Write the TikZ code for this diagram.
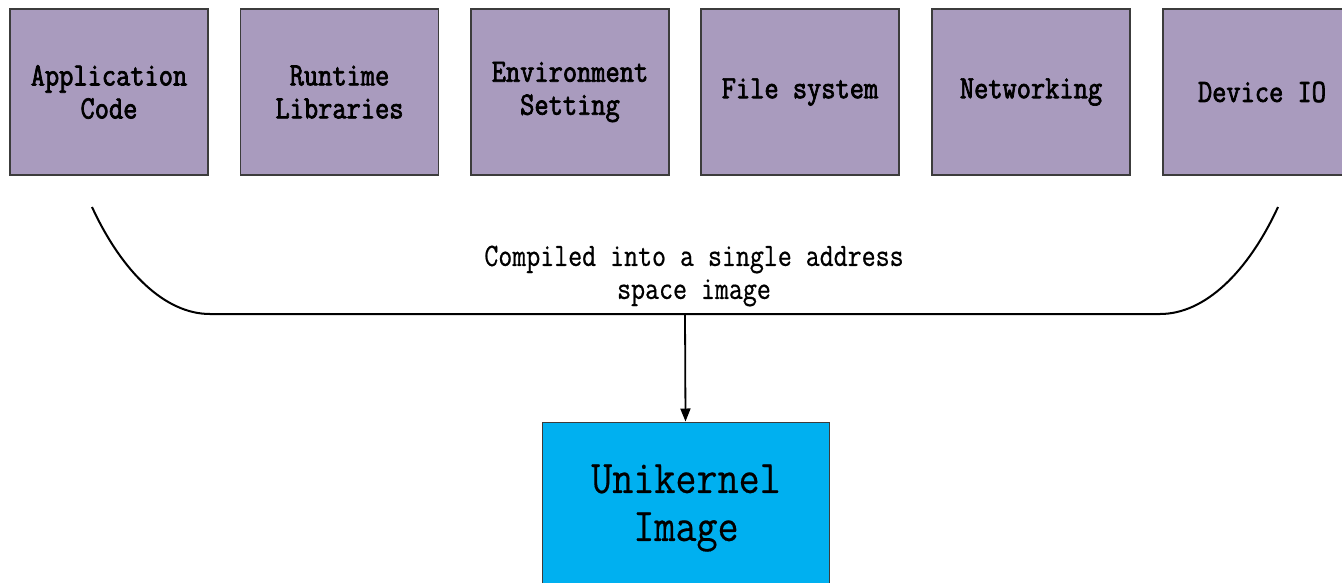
\documentclass[tikz,border=0pt]{standalone}
\usepackage{fontspec}
\usetikzlibrary{arrows.meta}
\newfontfamily\labelfont[FakeStretch=0.835, FakeBold=0.6]{Latin Modern Mono}
\newfontfamily\titlefont[FakeStretch=0.87, FakeBold=0.3]{Latin Modern Mono}
\newfontfamily\boldlabelfont[FakeStretch=0.85, FakeBold=2.2]{Latin Modern Mono}
\definecolor{compfill}{HTML}{A99BBE}
\definecolor{imgfill}{HTML}{00B0F0}
\definecolor{edgegray}{HTML}{3C3C3C}
\begin{document}
\begin{tikzpicture}[x=1pt,y=-1pt,
  comp/.style={draw=edgegray, line width=1.3pt, fill=compfill,
    minimum width=198pt, minimum height=166pt, inner sep=0pt, align=center,
    font=\boldlabelfont\fontsize{32.5}{33}\selectfont},
  image/.style={draw=edgegray, line width=1pt, fill=imgfill,
    minimum width=287pt, minimum height=162pt, inner sep=0pt, align=center,
    font=\titlefont\fontsize{47}{48}\selectfont},
  caption/.style={align=center, inner sep=0pt,
    font=\labelfont\fontsize{32.5}{33}\selectfont},
  bracket/.style={line width=2pt, draw=black},
  flow/.style={line width=1.8pt, -{Triangle[length=13pt,width=10pt]}}]
\useasboundingbox (0,0) rectangle (1342,582);
\clip (0,0) rectangle (1342,582);

% components linked into the image
\node[comp] (app)  at (109,92)   {Application\\Code};
\node[comp] (rt)   at (339.5,92) {Runtime\\Libraries};
\node[comp] (env)  at (570,92)   {Environment\\Setting};
\node[comp] (fs)   at (800,92)   {File system};
\node[comp] (net)  at (1031,92)  {Networking};
\node[comp] (dev)  at (1262,92)  {Device IO};

% brace gathering the components
\coordinate (bl) at (92,207);
\coordinate (br) at (1278,207);
\coordinate (join) at (685,314);
\draw[bracket] (bl) .. controls (122,272) and (165,314) .. (210,314)
  -- (1160,314) .. controls (1205,314) and (1248,272) .. (br);

\node[caption] (note) at (694,276) {Compiled into a single address\\space image};

% resulting unikernel
\node[image] (uk) at (685.5,503) {};
\node[font=\titlefont\fontsize{47}{48}\selectfont, align=center, inner sep=0pt]
  (uklabel) at (686,508) {Unikernel\\Image};
\draw[flow] (join) -- (uk.north);
\end{tikzpicture}
\end{document}
